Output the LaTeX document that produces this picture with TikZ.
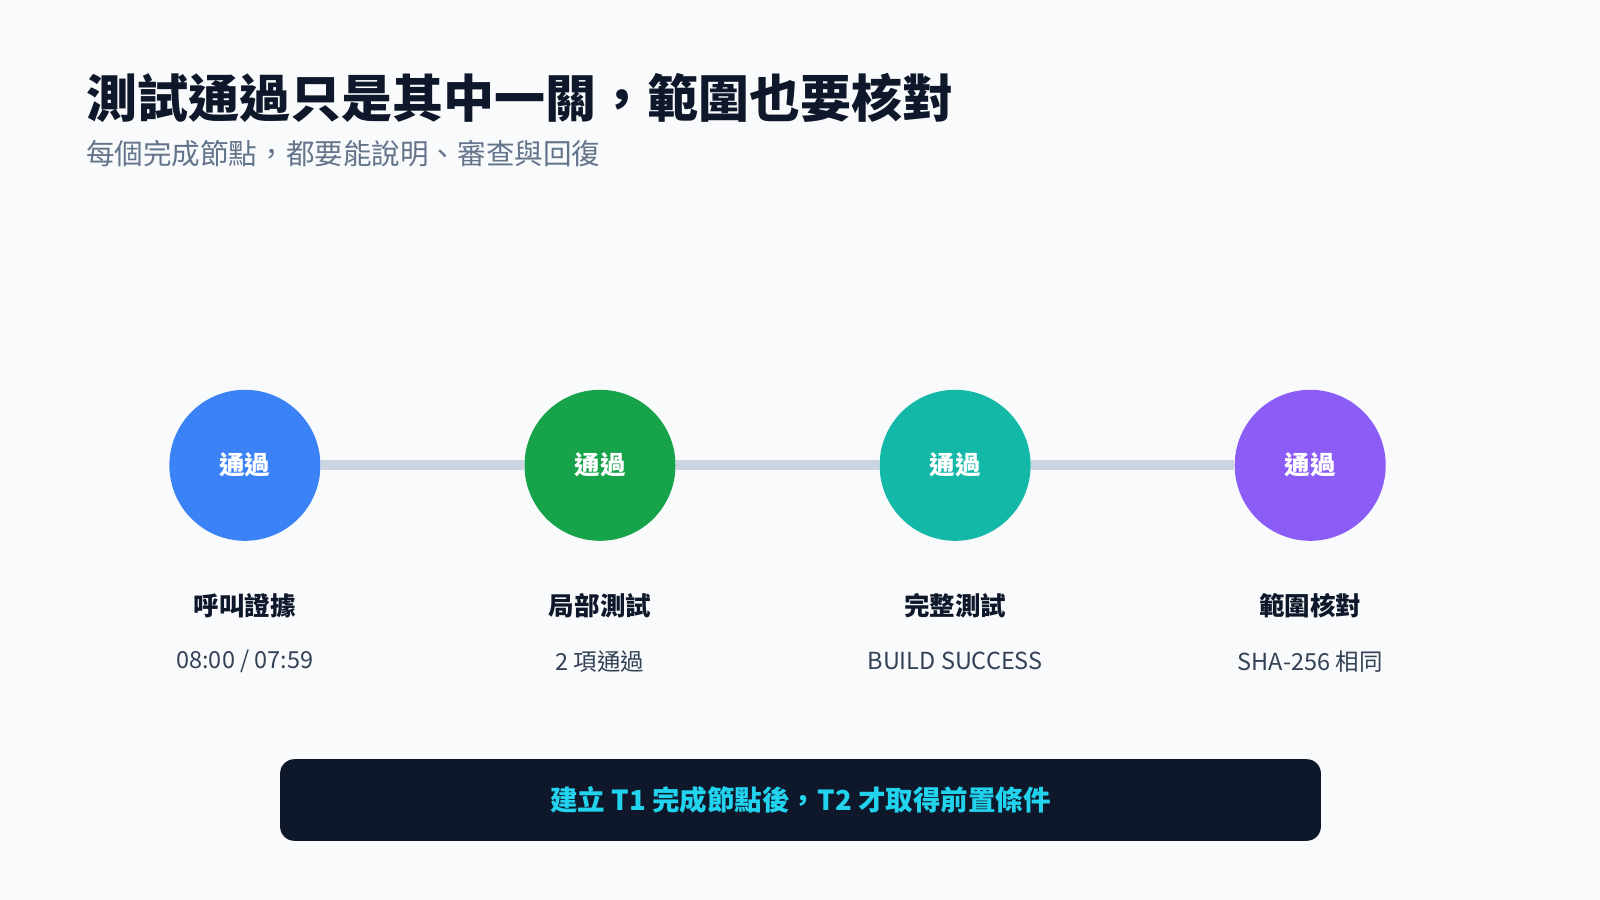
\documentclass[tikz,border=0pt]{standalone}
\usepackage{fontspec}
\setmainfont{Noto Sans CJK TC}
\definecolor{bg}{HTML}{F8FAFC}
\definecolor{ink}{HTML}{0F172A}
\definecolor{sub}{HTML}{64748B}
\definecolor{txt}{HTML}{334155}
\definecolor{rail}{HTML}{CBD5E1}
\definecolor{cA}{HTML}{3B82F6}
\definecolor{cB}{HTML}{16A34A}
\definecolor{cC}{HTML}{14B8A6}
\definecolor{cD}{HTML}{8B5CF6}
\definecolor{cyan}{HTML}{22D3EE}
\begin{document}
\begin{tikzpicture}[x=0.5pt,y=-0.5pt,
  stagecirc/.style={circle,minimum size=74pt,inner sep=0pt,text=white,font=\fontsize{12.5}{14}\selectfont\bfseries},
  lab/.style={font=\fontsize{12.5}{14}\selectfont\bfseries,text=ink},
  val/.style={font=\fontsize{11.5}{14}\selectfont,text=txt}]
\fill[bg] (0,0) rectangle (1568,882);
\useasboundingbox (0,0) rectangle (1568,882);
\node[anchor=base west,inner sep=0pt,text=ink,font=\fontsize{25}{30}\selectfont\bfseries] (title) at (84,115) {測試通過只是其中一關，範圍也要核對};
\node[anchor=base west,inner sep=0pt,text=sub,font=\fontsize{14}{17}\selectfont] (subt) at (84,161) {每個完成節點，都要能說明、審查與回復};
\node[stagecirc,fill=cA] (n1) at (240,456) {通過};
\node[stagecirc,fill=cB] (n2) at (588,456) {通過};
\node[stagecirc,fill=cC] (n3) at (936,456) {通過};
\node[stagecirc,fill=cD] (n4) at (1284,456) {通過};
\draw[rail,line width=5pt] (n1) -- (n2);
\draw[rail,line width=5pt] (n2) -- (n3);
\draw[rail,line width=5pt] (n3) -- (n4);
\node[lab] (l1) at (240,594) {呼叫證據};
\node[lab] (l2) at (588,594) {局部測試};
\node[lab] (l3) at (936,594) {完整測試};
\node[lab] (l4) at (1284,594) {範圍核對};
\node[val] (v1) at (240,648) {08:00 / 07:59};
\node[val] (v2) at (588,648) {2 項通過};
\node[val] (v3) at (936,648) {BUILD SUCCESS};
\node[val] (v4) at (1284,648) {SHA-256 相同};
\node[fill=ink,rounded corners=7pt,minimum width=510pt,minimum height=40pt,text=cyan,font=\fontsize{13.5}{16}\selectfont\bfseries] (bar) at (784.5,784) {建立 T1 完成節點後，T2 才取得前置條件};
\end{tikzpicture}
\end{document}
